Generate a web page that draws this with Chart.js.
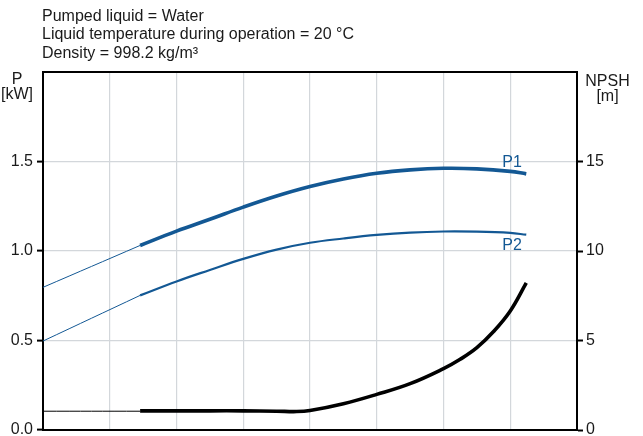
<!DOCTYPE html>
<html>
<head>
<meta charset="utf-8">
<script src="https://cdn.jsdelivr.net/npm/chart.js@4/dist/chart.umd.min.js"></script>
<style>
  body { margin: 0; background: #fff; }
  #wrap { position: relative; width: 643px; height: 436px; }
</style>
</head>
<body>
<div id="wrap"><canvas id="myChart"></canvas></div>
<script>
// flow axis has no labels, just 8 grid divisions
var flowTicks = [0, 1, 2, 3, 4, 5, 6, 7, 8];
var powerTicks = [0, 0.5, 1.0, 1.5];
var npshTicks = [0, 5, 10, 15];

var Titulo = ['Pumped liquid = Water', 'Liquid temperature during operation = 20 \u00b0C', 'Density = 998.2 kg/m\u00b3'];

// thin part (outside operating range)
var flujoFino = [0, 1.455];
var P1Fino = [0.797, 1.031];
var P2Fino = [0.497, 0.752];
var NPSHFino = [1.05, 1.05];

// thick part
var flujoP = [1.455, 2, 2.5, 3, 3.5, 4, 4.5, 5, 5.5, 6, 6.5, 7, 7.24];
var P1 = [1.031, 1.111, 1.177, 1.245, 1.307, 1.360, 1.402, 1.434, 1.453, 1.462, 1.459, 1.445, 1.431];
var P2 = [0.752, 0.830, 0.894, 0.956, 1.008, 1.046, 1.070, 1.090, 1.103, 1.109, 1.108, 1.101, 1.091];

var flujoN = [1.455, 2, 2.5, 3, 3.5, 3.8, 4, 4.5, 5, 5.5, 6, 6.25, 6.5, 6.75, 7, 7.24];
var NPSH = [1.07, 1.07, 1.07, 1.07, 1.05, 1.03, 1.09, 1.47, 1.99, 2.59, 3.43, 3.95, 4.6, 5.5, 6.65, 8.22];

var Azul = '#135894';
var Gris = '#d3d7db';
var Fuente = '"Liberation Sans", Arial, sans-serif';

function Puntos(xs, ys)
{
    var r = [];
    for (var i = 0; i < xs.length; i++) r.push({x: xs[i], y: ys[i]});
    return r;
}

function Serie(xs, ys, color, ancho, eje)
{
    return {
        data: Puntos(xs, ys),
        borderColor: color,
        borderWidth: ancho,
        pointRadius: 0,
        fill: false,
        tension: 0.4,
        borderCapStyle: 'butt',
        yAxisID: eje
    };
}

var Textos = {
    id: 'textos',
    afterDraw: function(chart)
    {
        var ctx = chart.ctx;
        var y = chart.scales.y;
        var x = chart.scales.x;
        ctx.save();
        ctx.font = '16px ' + Fuente;
        ctx.fillStyle = '#1a1a1a';
        ctx.textAlign = 'left';
        ctx.textBaseline = 'alphabetic';
        for (var i = 0; i < Titulo.length; i++) ctx.fillText(Titulo[i], 42, 20.5 + i * 18.8);
        ctx.textAlign = 'center';
        ctx.fillText('P', 17, 84);
        ctx.fillText('[kW]', 17, 99);
        ctx.fillText('NPSH', 607.5, 86);
        ctx.fillText('[m]', 607.5, 101);
        ctx.fillStyle = Azul;
        ctx.textAlign = 'left';
        ctx.fillText('P1', x.getPixelForValue(6.88), y.getPixelForValue(1.471));
        ctx.fillText('P2', x.getPixelForValue(6.88), y.getPixelForValue(1.006));
        ctx.restore();
    }
};

function Graficas()
{
    var ctx = document.getElementById('myChart').getContext('2d');
    var chart = new Chart(ctx, {
        type: 'line',
        data: {
            datasets: [
                Serie(flujoFino, P1Fino, Azul, 1, 'y'),
                Serie(flujoFino, P2Fino, Azul, 1, 'y'),
                Serie(flujoFino, NPSHFino, '#000', 1, 'y1'),
                Serie(flujoP, P1, Azul, 3.6, 'y'),
                Serie(flujoP, P2, Azul, 2.2, 'y'),
                Serie(flujoN, NPSH, '#000', 3.6, 'y1')
            ]
        },
        options: {
            responsive: true,
            maintainAspectRatio: false,
            animation: false,
            layout: {padding: {left: 0, right: 0, top: 72, bottom: 6}},
            plugins: {legend: {display: false}, tooltip: {enabled: false}, title: {display: false}},
            scales: {
                x: {
                    type: 'linear', min: 0, max: 8,
                    afterBuildTicks: function(s) { s.ticks = flowTicks.map(function(v) { return {value: v}; }); },
                    ticks: {display: false},
                    grid: {color: Gris, lineWidth: 1.2, drawTicks: false},
                    border: {color: '#000', width: 2},
                    afterFit: function(s) { s.height = 0; }
                },
                y: {
                    type: 'linear', position: 'left', min: 0, max: 2,
                    afterBuildTicks: function(s) { s.ticks = powerTicks.concat([2]).map(function(v) { return {value: v}; }); },
                    ticks: {
                        font: {family: Fuente, size: 16}, color: '#1a1a1a', padding: 4,
                        callback: function(v) { return v === 2 ? '' : v.toFixed(1); }
                    },
                    grid: {
                        color: function(c) { return c.tick && c.tick.value === 2 ? '#000' : Gris; },
                        lineWidth: function(c) { return c.tick && c.tick.value === 2 ? 2 : 1.2; },
                        tickColor: function(c) { return c.tick && c.tick.value === 2 ? 'rgba(0,0,0,0)' : '#000'; },
                        tickLength: 6, tickWidth: 2
                    },
                    border: {color: '#000', width: 2},
                    afterFit: function(s) { s.width = 43; s.paddingTop = 0; s.paddingBottom = 0; }
                },
                y1: {
                    type: 'linear', position: 'right', min: 0, max: 20,
                    afterBuildTicks: function(s) { s.ticks = npshTicks.concat([20]).map(function(v) { return {value: v}; }); },
                    ticks: {
                        font: {family: Fuente, size: 16}, color: '#1a1a1a', padding: 3,
                        callback: function(v) { return v === 20 ? '' : String(v); }
                    },
                    grid: {
                        drawOnChartArea: false,
                        tickColor: function(c) { return c.tick && c.tick.value === 20 ? 'rgba(0,0,0,0)' : '#000'; },
                        tickLength: 6, tickWidth: 2
                    },
                    border: {color: '#000', width: 2},
                    afterFit: function(s) { s.width = 66; s.paddingTop = 0; s.paddingBottom = 0; }
                }
            }
        },
        plugins: [Textos]
    });
}

Graficas();
</script>
</body>
</html>
